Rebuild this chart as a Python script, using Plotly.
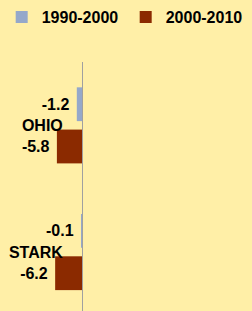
import plotly.graph_objects as go

categories = ["OHIO", "STARK"]
series_names = ["1990-2000", "2000-2010"]
values_1990_2000 = [-1.2, -0.1]
values_2000_2010 = [-5.8, -6.2]
colors = ["#95A8CA", "#8B2A00"]

W, H = 252, 311
zero_px = 82
px_per_unit = 4.33
x_range = [-zero_px / px_per_unit, (W - zero_px) / px_per_unit]

label_font = dict(family="Liberation Sans", size=16, color="#000000", weight="bold")

fig = go.Figure()
for name, vals, col in zip(series_names, [values_1990_2000, values_2000_2010], colors):
    fig.add_trace(go.Bar(
        y=categories, x=vals, name=name, orientation="h",
        marker=dict(color=col, line=dict(width=0)),
        texttemplate="%{x:.1f}\u00a0", textposition="outside",
        textfont=label_font, constraintext="none", cliponaxis=False,
    ))

fig.update_layout(
    width=W, height=H,
    margin=dict(l=0, r=0, t=59, b=0),
    paper_bgcolor="#FFEFA7", plot_bgcolor="#FFEFA7",
    barmode="group", bargap=0.333, bargroupgap=0.2,
    showlegend=True,
    legend=dict(orientation="h", x=0.0067, xanchor="left", y=1.1825, yanchor="middle",
                font=dict(family="Liberation Sans", size=16, color="#000000", weight="bold"),
                entrywidth=79, entrywidthmode="pixels",
                bgcolor="rgba(0,0,0,0)", traceorder="normal"),
    xaxis=dict(range=x_range, showgrid=False, zeroline=False, showticklabels=False,
               showline=False, fixedrange=True),
    yaxis=dict(autorange=False, range=[1.465, -0.5], anchor="free", position=zero_px / W,
               showline=True, linecolor="#A0A0A0", linewidth=1, showgrid=False,
               zeroline=False, ticks="", ticklabelstandoff=16, tickfont=label_font,
               categoryorder="array", categoryarray=categories, fixedrange=True),
)

fig.write_html("out.html", config={"displayModeBar": False},
               post_script="document.body.style.margin='0';document.body.style.overflow='hidden';")
